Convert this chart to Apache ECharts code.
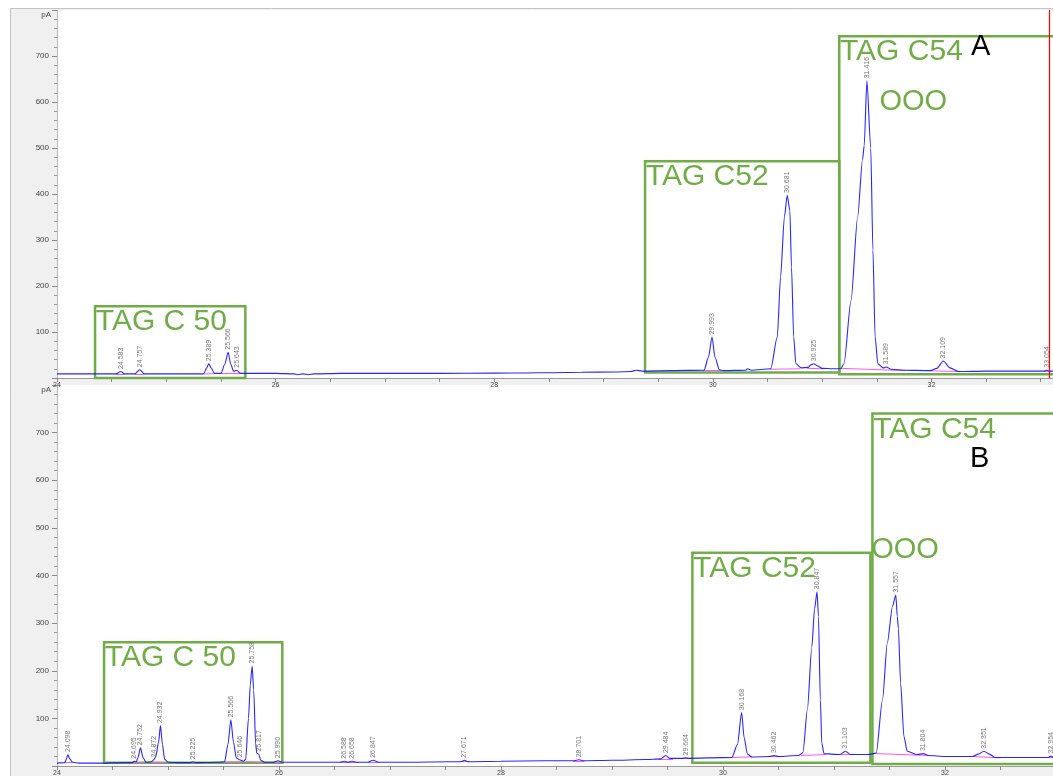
<!DOCTYPE html>
<html><head><meta charset="utf-8">
<script src="https://cdn.jsdelivr.net/npm/echarts@6/dist/echarts.min.js"></script>
<style>html,body{margin:0;padding:0;background:#fff;overflow:hidden}#c{width:1053px;height:776px}</style>
</head><body><div id="c"></div>
<script>
// ---------- DATA ----------
const xTickLabels = ['24', '26', '28', '30', '32'];
const yUnit = 'pA';

// Chromatogram A (time [min], signal [pA])
const signalA = [
 [24.00, 9], [24.30, 9], [24.54, 9], [24.583, 14], [24.62, 9],
 [24.71, 9], [24.757, 18], [24.80, 9], [25.00, 9], [25.34, 9],
 [25.37, 22], [25.389, 31], [25.41, 22], [25.44, 10], [25.50, 10],
 [25.535, 30], [25.566, 56], [25.59, 30], [25.615, 15], [25.643, 17],
 [25.68, 10], [25.80, 10], [26.00, 10], [26.17, 9], [26.20, 7], [26.25, 9], [26.30, 7], [26.35, 9],
 [26.60, 10], [27.00, 10], [27.50, 10], [28.00, 10.5], [28.30, 11], [28.50, 11.5], [28.80, 12.5],
 [29.10, 13], [29.25, 14], [29.30, 17], [29.35, 15], [29.60, 16], [29.92, 17], [29.96, 45],
 [29.993, 89], [30.02, 45], [30.06, 18], [30.10, 16], [30.30, 17], [30.32, 20], [30.35, 17],
 [30.53, 20], [30.59, 89], [30.62, 220], [30.655, 350], [30.681, 397], [30.705, 364],
 [30.72, 241], [30.74, 89], [30.76, 31], [30.81, 22], [30.87, 23], [30.90, 29], [30.925, 31], [30.96, 26],
 [31.00, 21], [31.10, 20], [31.17, 20], [31.20, 31], [31.265, 169], [31.325, 350], [31.37, 475],
 [31.385, 505], [31.41, 646], [31.445, 500], [31.465, 278], [31.485, 89],
 [31.51, 31], [31.56, 22], [31.589, 24], [31.63, 19], [31.75, 17], [31.99, 16], [32.05, 21],
 [32.109, 37], [32.17, 22], [32.25, 14], [32.50, 15], [32.80, 15], [33.03, 15], [33.054, 17], [33.08, 15], [33.20, 15]
];
// Integration baselines A: [t0, y0, t1, y1]
const baselineA = [
 [24.54, 9, 24.62, 9], [24.71, 9, 24.80, 9], [25.34, 9, 25.44, 9.5], [25.50, 9.5, 25.68, 10],
 [29.91, 16, 30.08, 16], [30.52, 19, 30.80, 20], [30.86, 21, 31.02, 20], [31.17, 21, 31.76, 16],
 [31.99, 15.5, 32.26, 14], [33.03, 15, 33.10, 15]
];
// Peak apex labels A: [time, height, label]
const peaksA = [
 [24.583, 14, '24.583'], [24.757, 18, '24.757'], [25.389, 31, '25.389'], [25.566, 56, '25.566'],
 [25.643, 17, '25.643'], [29.993, 89, '29.993'], [30.681, 397, '30.681'], [30.925, 31, '30.925'],
 [31.41, 646, '31.416'], [31.589, 24, '31.589'], [32.109, 37, '32.109'], [33.054, 17, '33.054']
];

// Chromatogram B
const signalB = [
 [24.00, 6], [24.07, 7], [24.085, 15], [24.098, 24], [24.115, 15], [24.14, 8], [24.20, 6], [24.40, 6],
 [24.60, 7], [24.68, 7], [24.695, 10], [24.715, 9], [24.73, 18], [24.752, 38], [24.775, 18], [24.80, 8],
 [24.85, 9], [24.872, 13], [24.89, 20], [24.915, 50], [24.932, 85], [24.95, 45], [24.97, 14], [25.00, 8],
 [25.10, 7], [25.20, 7], [25.225, 9], [25.25, 7], [25.45, 8], [25.51, 9],
 [25.54, 45], [25.566, 97], [25.59, 50], [25.615, 17], [25.646, 13], [25.68, 10], [25.70, 14],
 [25.725, 100], [25.741, 170], [25.758, 210], [25.772, 160], [25.79, 45], [25.80, 27], [25.817, 25],
 [25.835, 12], [25.87, 8], [25.95, 8], [25.99, 11], [26.03, 8], [26.20, 8], [26.40, 8], [26.55, 8],
 [26.588, 10], [26.62, 8], [26.658, 10], [26.70, 8], [26.80, 8], [26.847, 12], [26.90, 8], [27.20, 8],
 [27.50, 9], [27.64, 9], [27.671, 12], [27.70, 9], [28.00, 10], [28.40, 11], [28.66, 11], [28.701, 13],
 [28.74, 11], [29.00, 12], [29.30, 13.5], [29.44, 15], [29.484, 22], [29.52, 16], [29.63, 16],
 [29.664, 17], [29.70, 16], [29.85, 17], [30.08, 18], [30.13, 45], [30.168, 112], [30.19, 60],
 [30.22, 25], [30.26, 19], [30.42, 20], [30.462, 22], [30.50, 20], [30.68, 22], [30.72, 28],
 [30.76, 118], [30.80, 250], [30.825, 330], [30.847, 366], [30.86, 314], [30.877, 139], [30.89, 48],
 [30.91, 26], [31.05, 24], [31.103, 31], [31.15, 24], [31.30, 24], [31.38, 27], [31.437, 139],
 [31.48, 258], [31.527, 335], [31.557, 359], [31.57, 314], [31.58, 289], [31.60, 174], [31.63, 62],
 [31.66, 31], [31.75, 24], [31.804, 26], [31.85, 22], [32.00, 20], [32.25, 20], [32.30, 25],
 [32.351, 31], [32.40, 25], [32.45, 18], [32.70, 18], [32.93, 18], [32.954, 21], [32.98, 18], [33.07, 18]
];
const baselineB = [
 [24.07, 7, 24.14, 7], [24.68, 7, 24.80, 8], [24.85, 8, 24.98, 8], [25.20, 7, 25.25, 7],
 [25.50, 8, 25.68, 9], [25.70, 9, 25.87, 8], [25.95, 8, 26.03, 8], [26.55, 8, 26.72, 8],
 [26.80, 8, 26.90, 8], [27.63, 9, 27.72, 9], [28.65, 11, 28.75, 11], [29.42, 15, 29.55, 15],
 [29.62, 16, 29.72, 16], [30.08, 18, 30.26, 19], [30.40, 20, 30.55, 20], [30.70, 22, 30.93, 24],
 [31.02, 24, 31.20, 24], [31.38, 26, 31.85, 22], [32.25, 20, 32.50, 17], [32.93, 18, 32.98, 18]
];
const peaksB = [
 [24.098, 24, '24.098'], [24.695, 10, '24.695'], [24.752, 38, '24.752'], [24.872, 13, '24.872'],
 [24.932, 85, '24.932'], [25.225, 9, '25.225'], [25.566, 97, '25.566'], [25.646, 13, '25.646'],
 [25.758, 210, '25.758'], [25.817, 25, '25.817'], [25.990, 11, '25.990'], [26.588, 10, '26.588'],
 [26.658, 10, '26.658'], [26.847, 12, '26.847'], [27.671, 12, '27.671'], [28.701, 13, '28.701'],
 [29.484, 22, '29.484'], [29.664, 17, '29.664'], [30.168, 112, '30.168'], [30.462, 22, '30.462'],
 [30.847, 366, '30.847'], [31.103, 31, '31.103'], [31.557, 359, '31.557'], [31.804, 26, '31.804'],
 [32.351, 31, '32.351'], [32.954, 21, '32.954']
];

// Annotation boxes: [label, t0, t1, yLow, yHigh]
const boxesA = [
 ['TAG C 50', 24.348, 25.723, 0, 156],
 ['TAG C52', 29.38, 31.157, 12, 471],
 ['TAG C54', 31.157, 33.5, 8, 743]
];
const boxesB = [
 ['TAG C 50', 24.424, 26.03, 7, 260],
 ['TAG C52', 29.724, 31.328, 7, 448],
 ['TAG C54', 31.346, 33.5, 4, 740]
];
// Free notes: [text, t, y, kind]
const notesA = [['A', 32.45, 720, 'k'], ['OOO', 31.834, 601, 'g']];
const notesB = [['B', 32.313, 645, 'k'], ['OOO', 31.64, 453, 'g']];
const markerTimeA = 33.083;

// ---------- CHART ----------
const GREEN = '#70ad47';
const FONT = '"Liberation Sans", Arial, sans-serif';

function xAxisCfg(gi, max) {
  return {
    type: 'value', gridIndex: gi, min: 24, max: max, interval: 2,
    axisLine: { show: true, onZero: false, lineStyle: { color: '#999', width: 1 } },
    axisTick: { show: true, length: 4, lineStyle: { color: '#888' } },
    minorTick: { show: true, splitNumber: 4, length: 4, lineStyle: { color: '#888' } },
    splitLine: { show: false },
    axisLabel: { fontSize: 7, color: '#444', margin: 4, showMaxLabel: false,
      formatter: v => xTickLabels.includes(String(v)) ? String(v) : '' }
  };
}
function yAxisCfg(gi) {
  return {
    type: 'value', gridIndex: gi, min: 0, max: 800, interval: 100,
    axisLine: { show: true, lineStyle: { color: '#bbb' } },
    axisTick: { show: true, length: 5, lineStyle: { color: '#888' } },
    minorTick: { show: true, splitNumber: 5, length: 3, lineStyle: { color: '#999' } },
    splitLine: { show: false },
    axisLabel: { fontSize: 8, color: '#444', margin: 8, showMinLabel: false, showMaxLabel: false },
    name: yUnit, nameLocation: 'end', nameGap: -5,
    nameTextStyle: { fontSize: 8, color: '#444', align: 'right', verticalAlign: 'middle', padding: [0, 6, 0, 0] }
  };
}
function signalSeries(i, data, boxes, notes, marker) {
  const s = {
    type: 'line', xAxisIndex: i, yAxisIndex: i, data: data, showSymbol: false, symbol: 'none',
    smooth: 0.25, smoothMonotone: 'x',
    lineStyle: { color: '#1010ff', width: 1.1, opacity: 0.9 }, z: 3, silent: true,
    markArea: {
      silent: true,
      itemStyle: { color: 'rgba(0,0,0,0)', borderColor: GREEN, borderWidth: 2.5 },
      label: { show: true, position: 'insideTopLeft', distance: 2, color: GREEN, fontSize: 30, fontFamily: FONT },
      data: boxes.map(b => [{ name: b[0], xAxis: b[1], yAxis: b[4] }, { xAxis: b[2], yAxis: b[3] }])
    },
    markPoint: {
      silent: true, symbol: 'rect', symbolSize: 1, itemStyle: { color: 'rgba(0,0,0,0)' },
      label: { show: true, position: 'inside', fontSize: 29, fontFamily: FONT, formatter: p => p.name },
      data: notes.map(n => ({ name: n[0], coord: [n[1], n[2]], label: { color: n[3] === 'k' ? '#000' : GREEN } }))
    }
  };
  if (marker != null) {
    s.markLine = { silent: true, symbol: 'none', label: { show: false },
      lineStyle: { color: '#ff0000', width: 1.2, type: 'solid', opacity: 1 },
      emphasis: { disabled: true }, data: [{ xAxis: marker, lineStyle: { color: '#ff0000' } }] };
  }
  return s;
}
function baselineSeries(i, segs) {
  return {
    type: 'lines', coordinateSystem: 'cartesian2d', xAxisIndex: i, yAxisIndex: i, silent: true, z: 2,
    lineStyle: { color: '#ff55ff', width: 1, opacity: 1 },
    data: segs.map(s => ({ coords: [[s[0], s[1]], [s[2], s[3]]] }))
  };
}
function labelSeries(i, peaks) {
  return {
    type: 'scatter', xAxisIndex: i, yAxisIndex: i, silent: true, symbolSize: 1, z: 4,
    itemStyle: { color: 'rgba(0,0,0,0)' },
    label: { show: true, formatter: '{b}', rotate: 90, position: 'top', align: 'left', verticalAlign: 'middle',
      distance: 2, fontSize: 7, color: '#555', fontFamily: FONT },
    data: peaks.map(p => ({ name: p[2], value: [p[0], p[1]] }))
  };
}

const chart = echarts.init(document.getElementById('c'), null, { renderer: 'canvas' });
chart.setOption({
  animation: false,
  backgroundColor: '#ffffff',
  textStyle: { fontFamily: FONT },
  graphic: [{ type: 'rect', z: -10, silent: true, shape: { x: 10.5, y: 8.5, width: 1060, height: 775 },
    style: { fill: '#f0f0f0', stroke: '#c4c4c4', lineWidth: 1 } }],
  grid: [
    { left: 57, width: 1006, top: 10, height: 368, show: true, backgroundColor: '#fff', borderWidth: 0,
      containLabel: false, outerBoundsMode: 'none' },
    { left: 57, width: 1006, top: 385, height: 381, show: true, backgroundColor: '#fff', borderWidth: 0,
      containLabel: false, outerBoundsMode: 'none' }
  ],
  xAxis: [xAxisCfg(0, 33.204), xAxisCfg(1, 33.063)],
  yAxis: [yAxisCfg(0), yAxisCfg(1)],
  series: [
    baselineSeries(0, baselineA),
    signalSeries(0, signalA, boxesA, notesA, markerTimeA),
    labelSeries(0, peaksA),
    baselineSeries(1, baselineB),
    signalSeries(1, signalB, boxesB, notesB, null),
    labelSeries(1, peaksB)
  ]
});
</script></body></html>
